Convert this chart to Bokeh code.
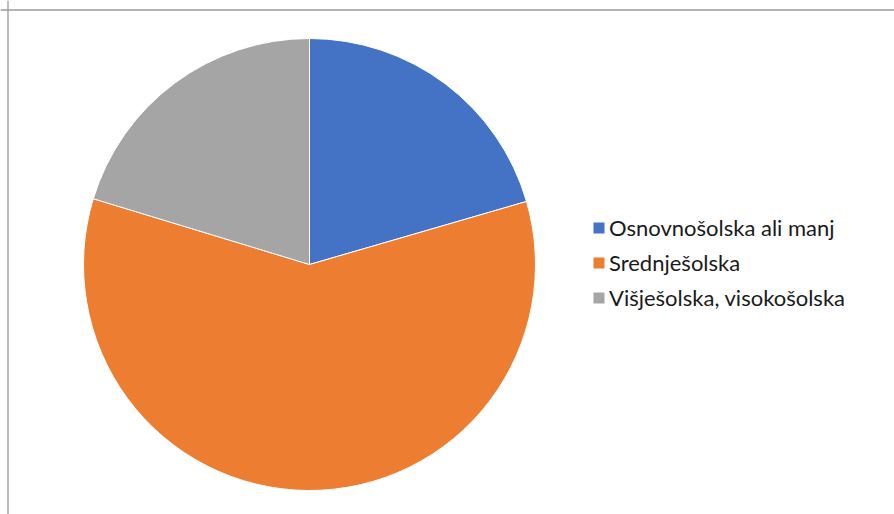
import math
from bokeh.plotting import figure
from bokeh.models import Range1d, Span, Legend, LegendItem
from bokeh.embed import file_html
from bokeh.resources import INLINE

categories = ["Osnovnošolska ali manj", "Srednješolska", "Višješolska, visokošolska"]
values = [20.5, 59.2, 20.3]
colors = ["#4472C4", "#ED7D31", "#A5A5A5"]

W, H = 894, 514
p = figure(width=W, height=H, output_backend="svg", toolbar_location=None,
           x_range=Range1d(0, W), y_range=Range1d(0, H), min_border=0)
p.axis.visible = False
p.grid.visible = False
p.outline_line_color = None
p.background_fill_color = "white"

total = sum(values)
starts, ends = [], []
cum = 0.0
for v in values:
    starts.append(math.pi / 2 - 2 * math.pi * cum / total)
    cum += v
    ends.append(math.pi / 2 - 2 * math.pi * cum / total)

cx, cy, r = 309, 250, 226
renderers = []
for i in range(len(values)):
    rr = p.wedge(x=cx, y=cy, radius=r, start_angle=starts[i], end_angle=ends[i],
                 direction="clock", fill_color=colors[i], line_color="white", line_width=1)
    renderers.append(rr)

# frame border (top and left), cropped chart-area outline
p.add_layout(Span(location=H - 9.5, dimension="width", line_color="#9a9a9a", line_width=1.3))
p.add_layout(Span(location=7.5, dimension="height", line_color="#9a9a9a", line_width=1.3))

legend = Legend(items=[LegendItem(label=categories[i], renderers=[renderers[i]]) for i in range(3)],
                location=(591, 203), orientation="vertical",
                glyph_width=15, glyph_height=15, label_standoff=3,
                label_text_font="Lato", label_text_font_size="22px", label_text_color="#1a1a1a",
                label_height=26, spacing=8, padding=0, margin=0,
                border_line_color=None, background_fill_alpha=0)
p.add_layout(legend)

open("out.html", "w").write(file_html(p, INLINE))
